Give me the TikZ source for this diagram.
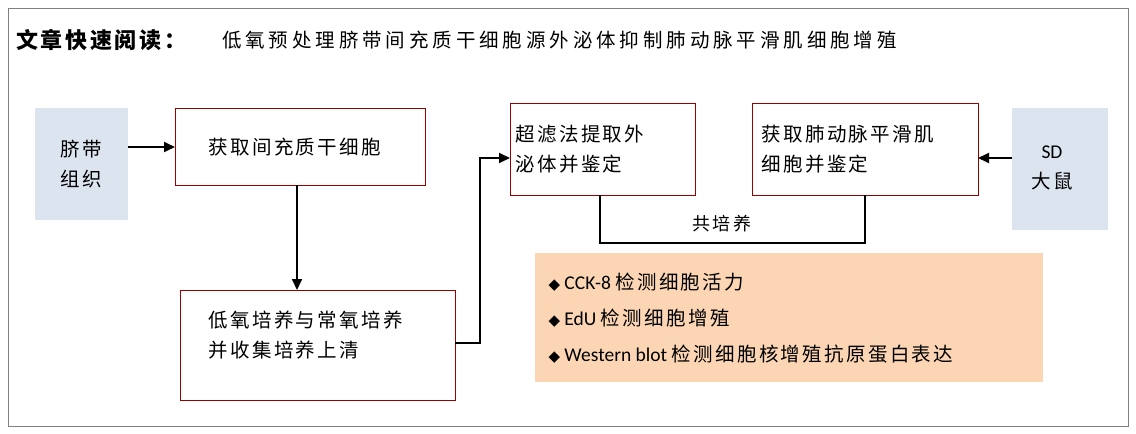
\documentclass[tikz,border=0pt]{standalone}
\usepackage{fontspec}
\setmainfont{Carlito}
\newfontfamily\cjk[LetterSpace=12]{Noto Sans CJK SC}
\newfontfamily\cjkw[LetterSpace=20]{Noto Sans CJK SC}
\newfontfamily\djv{DejaVu Sans}
\usetikzlibrary{arrows.meta}
\begin{document}
\begin{tikzpicture}[x=1pt,y=-1pt,
  rbox/.style={draw=red!60!black,line width=1pt,fill=white},
  arr/.style={line width=1.8pt,-{Triangle[length=11pt,width=10pt]}},
  txt/.style={font=\fontsize{19.5}{30}\selectfont\cjk,align=left,anchor=west}]
\useasboundingbox (0,0) rectangle (1136,434);
\draw[gray,line width=1pt] (8,8) rectangle (1128,426);
\node[anchor=west,inner sep=0] (t1) at (16,40) {\fontsize{22}{24}\selectfont\cjk\bfseries 文章快速阅读：};
\node[anchor=west,inner sep=0] (t2) at (222,40) {\fontsize{19.5}{22}\selectfont\cjkw 低氧预处理脐带间充质干细胞源外泌体抑制肺动脉平滑肌细胞增殖};
\fill[fill={rgb,255:red,220;green,228;blue,240}] (35,108) rectangle (128,220);
\node[txt,align=center,anchor=center] (a) at (81,164) {脐带\\组织};
\coordinate (ae) at (128,147);
\draw[rbox] (175,108) rectangle (425,185);
\node[txt] (b) at (205,147) {获取间充质干细胞};
\coordinate (bw) at (175,147);
\draw[arr] (ae) -- (bw);
\coordinate (bs) at (297,185);
\draw[rbox] (180,290) rectangle (455,400);
\node[txt] (c) at (205,335) {低氧培养与常氧培养\\并收集培养上清};
\coordinate (cn) at (297,290);
\draw[arr] (bs) -- (cn);
\draw[rbox] (510,103) rectangle (695,195);
\node[txt] (d) at (512,149) {超滤法提取外\\泌体并鉴定};
\coordinate (ce) at (455,343);
\coordinate (dw) at (510,158);
\draw[arr] (ce) -- (480,343) -- (480,158) -- (dw);
\draw[rbox] (752,103) rectangle (978,195);
\node[txt] (e) at (758,149) {获取肺动脉平滑肌\\细胞并鉴定};
\fill[fill={rgb,255:red,220;green,228;blue,240}] (1012,108) rectangle (1108,230);
\node[font=\fontsize{19.5}{30}\selectfont,align=center] (f) at (1052,168) {SD\\{\cjk 大鼠}};
\coordinate (fw) at (1012,158);
\coordinate (ee) at (978,158);
\draw[arr] (fw) -- (ee);
\coordinate (ds) at (600,195);
\coordinate (es) at (865,195);
\draw[line width=1.2pt] (ds) -- (600,243) -- (865,243) -- (es);
\node[font=\fontsize{18}{20}\selectfont\cjk] (g) at (722,224) {共培养};
\fill[fill={rgb,255:red,252;green,214;blue,180}] (535,253) rectangle (1043,382);
\node[anchor=west,font=\fontsize{19.5}{22}\selectfont] (h1) at (545,282) {{\djv\fontsize{15}{20}\selectfont ◆} CCK-8 {\cjk 检测细胞活力}};
\node[anchor=west,font=\fontsize{19.5}{22}\selectfont] (h2) at (545,318) {{\djv\fontsize{15}{20}\selectfont ◆} EdU {\cjk 检测细胞增殖}};
\node[anchor=west,font=\fontsize{19.5}{22}\selectfont] (h3) at (545,354) {{\djv\fontsize{15}{20}\selectfont ◆} Western blot {\cjk 检测细胞核增殖抗原蛋白表达}};
\end{tikzpicture}
\end{document}
